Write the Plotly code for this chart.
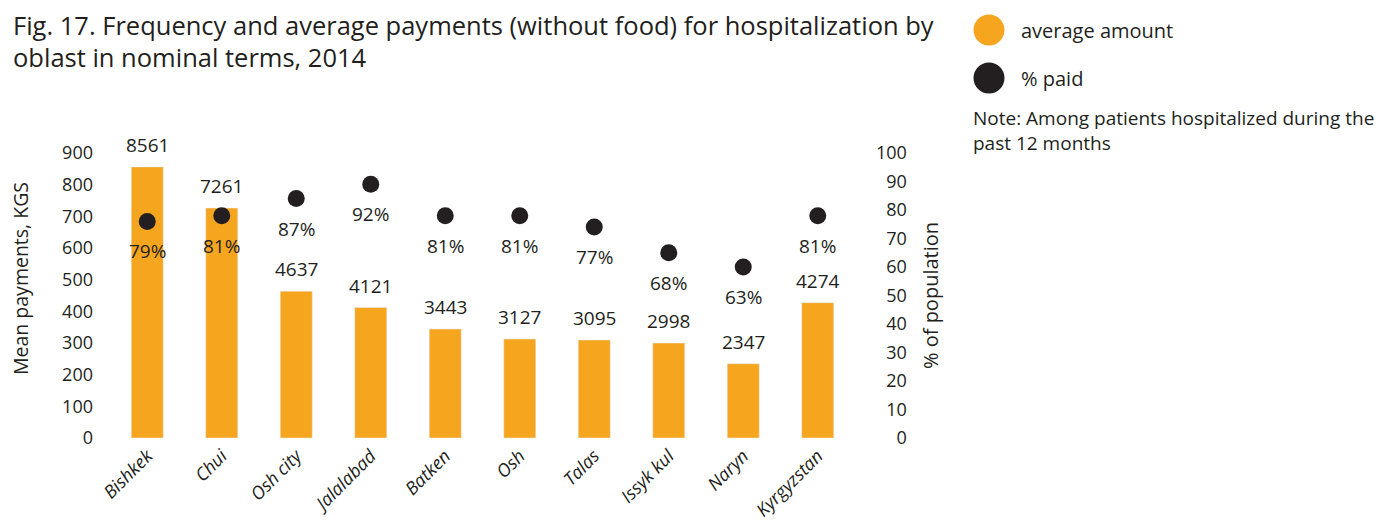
import plotly.graph_objects as go

regions = ["Bishkek", "Chui", "Osh city", "Jalalabad", "Batken", "Osh", "Talas", "Issyk kul", "Naryn", "Kyrgyzstan"]
avg_amount = [8561, 7261, 4637, 4121, 3443, 3127, 3095, 2998, 2347, 4274]
pct_paid = [79, 81, 87, 92, 81, 81, 77, 68, 63, 81]
# dot positions as drawn in the reference (right axis, % of population)
dot_position = [76, 78, 84, 89, 78, 78, 74, 65, 60, 78]

left_tickvals = [0, 1000, 2000, 3000, 4000, 5000, 6000, 7000, 8000, 9000]
left_ticktext = ["0", "100", "200", "300", "400", "500", "600", "700", "800", "900"]
right_tickvals = [0, 10, 20, 30, 40, 50, 60, 70, 80, 90, 100]
right_ticktext = ["0", "10", "20", "30", "40", "50", "60", "70", "80", "90", "100"]

ORANGE = "#F6A51F"
DARK = "#231F20"
FONT = "Open Sans"
FS = 18

maxlen = max(len(t) for t in right_ticktext)
right_ticktext_padded = ["\u2007" * (maxlen - len(t)) + t for t in right_ticktext]

# page body has an 8px margin; screen coordinates below are converted
OFF = 8
W, H = 1391, 516
L, R, T, B = 102, 544, 145, 86


def px_x(p):
    return (p - OFF - L) / (W - L - R)


def px_y(p):
    return (H - B - (p - OFF)) / (H - T - B)


fig = go.Figure()
fig.add_trace(go.Bar(x=regions, y=avg_amount, marker_color=ORANGE, width=0.43,
                     showlegend=False, hoverinfo="skip"))
fig.add_trace(go.Scatter(x=regions, y=dot_position, yaxis="y2", mode="markers",
                         marker=dict(color=DARK, size=17), showlegend=False, hoverinfo="skip"))

annotations = []
for r, a in zip(regions, avg_amount):
    annotations.append(dict(x=r, y=a, xref="x", yref="y", text=str(a), showarrow=False,
                            yanchor="bottom", yshift=7, font=dict(family=FONT, size=19, color=DARK)))
for r, d, p in zip(regions, dot_position, pct_paid):
    annotations.append(dict(x=r, y=d, xref="x", yref="y2", text=f"{p}%", showarrow=False,
                            yanchor="middle", yshift=-30, font=dict(family=FONT, size=19, color=DARK)))

title_lines = ["Fig. 17. Frequency and average payments (without food) for hospitalization by",
               "oblast in nominal terms, 2014"]
for i, line in enumerate(title_lines):
    annotations.append(dict(x=px_x(11), y=px_y(25 + 32 * i), xref="paper", yref="paper",
                            text=line, showarrow=False, xanchor="left", yanchor="middle",
                            font=dict(family=FONT, size=25.5, color=DARK)))
# left axis title
annotations.append(dict(x=px_x(20), y=px_y(279), xref="paper", yref="paper",
                        text="Mean payments, KGS", textangle=-90, showarrow=False,
                        xanchor="center", yanchor="middle",
                        font=dict(family=FONT, size=19.5, color=DARK)))
# legend
legend_items = [("average amount", ORANGE, 30), ("% paid", DARK, 78)]
shapes = []
for label, col, yc in legend_items:
    shapes.append(dict(type="circle", xref="paper", yref="paper", xsizemode="pixel", ysizemode="pixel",
                       xanchor=px_x(989), yanchor=px_y(yc), x0=-15.5, x1=15.5, y0=-15.5, y1=15.5,
                       fillcolor=col, line=dict(width=0)))
    annotations.append(dict(x=px_x(1019), y=px_y(yc), xref="paper", yref="paper", text=label,
                            showarrow=False, xanchor="left", yanchor="middle",
                            font=dict(family=FONT, size=20, color=DARK)))
annotations.append(dict(x=px_x(971), y=px_y(130), xref="paper", yref="paper",
                        text="Note: Among patients hospitalized during the<br>past 12 months",
                        showarrow=False, xanchor="left", yanchor="middle", align="left",
                        font=dict(family=FONT, size=19, color=DARK)))

fig.update_layout(
    width=W, height=H,
    margin=dict(l=L, r=R, t=T, b=B, pad=0, autoexpand=False),
    plot_bgcolor="white", paper_bgcolor="white",
    font=dict(family=FONT, size=FS, color=DARK),
    xaxis=dict(type="category", tickangle=-45, showgrid=False, showline=False, zeroline=False,
               ticks="", ticklabelstandoff=3, automargin=False,
               tickfont=dict(family=FONT, size=18, color=DARK, style="italic"),
               range=[-0.5, 9.5]),
    yaxis=dict(range=[0, 9000], tickvals=left_tickvals, ticktext=left_ticktext, showgrid=False,
               zeroline=False, showline=False, ticks="", ticklabelstandoff=16, automargin=False,
               tickfont=dict(family=FONT, size=FS, color=DARK)),
    yaxis2=dict(range=[0, 100], tickvals=right_tickvals, ticktext=right_ticktext_padded, overlaying="y",
                side="right", showgrid=False, zeroline=False, showline=False, ticks="",
                ticklabelstandoff=20, automargin=False,
                title=dict(text="% of population", standoff=18, font=dict(family=FONT, size=20, color=DARK)),
                tickfont=dict(family=FONT, size=FS, color=DARK)),
    annotations=annotations,
    shapes=shapes,
)

fig.write_html("out.html")
